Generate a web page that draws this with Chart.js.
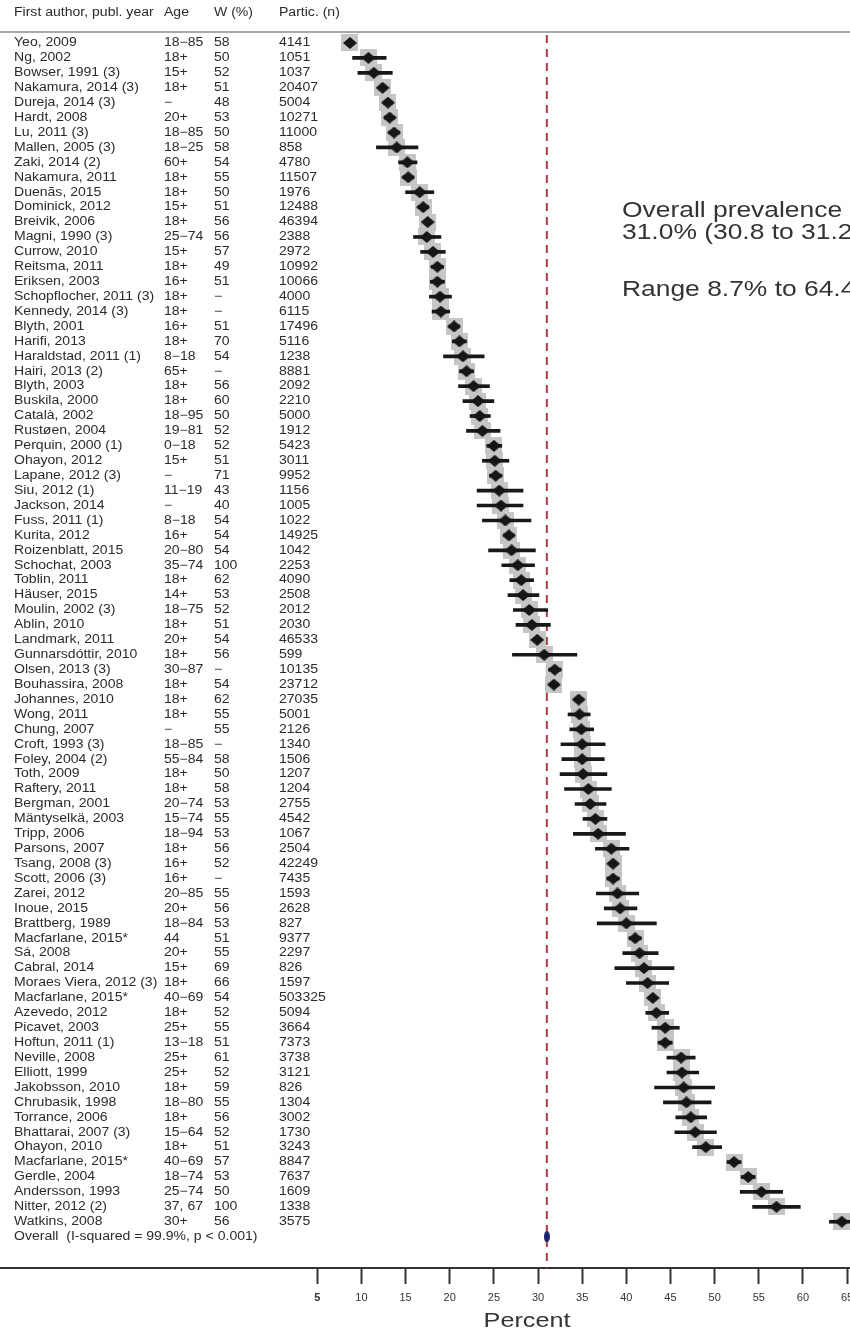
<!DOCTYPE html>
<html><head><meta charset="utf-8">
<script src="https://cdn.jsdelivr.net/npm/chart.js@4.4.1/dist/chart.umd.min.js"></script>
<style>html,body{margin:0;padding:0;background:#fff;}canvas{display:block;}</style>
</head><body>
<canvas id="c" width="850" height="1333"></canvas>
<script>
const authors = ["Yeo, 2009","Ng, 2002","Bowser, 1991 (3)","Nakamura, 2014 (3)","Dureja, 2014 (3)","Hardt, 2008","Lu, 2011 (3)","Mallen, 2005 (3)","Zaki, 2014 (2)","Nakamura, 2011","Duenãs, 2015","Dominick, 2012","Breivik, 2006","Magni, 1990 (3)","Currow, 2010","Reitsma, 2011","Eriksen, 2003","Schopflocher, 2011 (3)","Kennedy, 2014 (3)","Blyth, 2001","Harifi, 2013","Haraldstad, 2011 (1)","Hairi, 2013 (2)","Blyth, 2003","Buskila, 2000","Català, 2002","Rustøen, 2004","Perquin, 2000 (1)","Ohayon, 2012","Lapane, 2012 (3)","Siu, 2012 (1)","Jackson, 2014","Fuss, 2011 (1)","Kurita, 2012","Roizenblatt, 2015","Schochat, 2003","Toblin, 2011","Häuser, 2015","Moulin, 2002 (3)","Ablin, 2010","Landmark, 2011","Gunnarsdóttir, 2010","Olsen, 2013 (3)","Bouhassira, 2008","Johannes, 2010","Wong, 2011","Chung, 2007","Croft, 1993 (3)","Foley, 2004 (2)","Toth, 2009","Raftery, 2011","Bergman, 2001","Mäntyselkä, 2003","Tripp, 2006","Parsons, 2007","Tsang, 2008 (3)","Scott, 2006 (3)","Zarei, 2012","Inoue, 2015","Brattberg, 1989","Macfarlane, 2015*","Sá, 2008","Cabral, 2014","Moraes Viera, 2012 (3)","Macfarlane, 2015*","Azevedo, 2012","Picavet, 2003","Hoftun, 2011 (1)","Neville, 2008","Elliott, 1999","Jakobsson, 2010","Chrubasik, 1998","Torrance, 2006","Bhattarai, 2007 (3)","Ohayon, 2010","Macfarlane, 2015*","Gerdle, 2004","Andersson, 1993","Nitter, 2012 (2)","Watkins, 2008"];
const ages = ["18−85","18+","15+","18+","−","20+","18−85","18−25","60+","18+","18+","15+","18+","25−74","15+","18+","16+","18+","18+","16+","18+","8−18","65+","18+","18+","18−95","19−81","0−18","15+","−","11−19","−","8−18","16+","20−80","35−74","18+","14+","18−75","18+","20+","18+","30−87","18+","18+","18+","−","18−85","55−84","18+","18+","20−74","15−74","18−94","18+","16+","16+","20−85","20+","18−84","44","20+","15+","18+","40−69","18+","25+","13−18","25+","25+","18+","18−80","18+","15−64","18+","40−69","18−74","25−74","37, 67","30+"];
const womenPct = ["58","50","52","51","48","53","50","58","54","55","50","51","56","56","57","49","51","−","−","51","70","54","−","56","60","50","52","52","51","71","43","40","54","54","54","100","62","53","52","51","54","56","−","54","62","55","55","−","58","50","58","53","55","53","56","52","−","55","56","53","51","55","69","66","54","52","55","51","61","52","59","55","56","52","51","57","53","50","100","56"];
const participants = ["4141","1051","1037","20407","5004","10271","11000","858","4780","11507","1976","12488","46394","2388","2972","10992","10066","4000","6115","17496","5116","1238","8881","2092","2210","5000","1912","5423","3011","9952","1156","1005","1022","14925","1042","2253","4090","2508","2012","2030","46533","599","10135","23712","27035","5001","2126","1340","1506","1207","1204","2755","4542","1067","2504","42249","7435","1593","2628","827","9377","2297","826","1597","503325","5094","3664","7373","3738","3121","826","1304","3002","1730","3243","8847","7637","1609","1338","3575"];
const prevalence = [8.7,10.8,11.4,12.4,13.0,13.2,13.7,14.0,15.2,15.3,16.6,17.0,17.5,17.4,18.1,18.6,18.6,18.9,19.0,20.5,21.1,21.5,21.9,22.7,23.2,23.4,23.7,25.0,25.1,25.2,25.6,25.8,26.3,26.7,27.0,27.7,28.1,28.3,29.0,29.3,29.9,30.7,31.9,31.8,34.6,34.7,34.9,35.0,35.0,35.1,35.7,35.9,36.5,36.8,38.3,38.5,38.5,39.0,39.3,40.0,41.0,41.5,42.0,42.4,43.0,43.4,44.4,44.4,46.2,46.3,46.5,46.8,47.3,47.8,49.0,52.2,53.8,55.3,57.0,64.4];
const ciLow = [8.4,9.0,9.6,12.0,12.5,12.6,13.1,11.7,14.2,14.7,15.0,16.4,17.1,15.9,16.7,17.9,17.8,17.7,18.0,19.9,20.3,19.3,21.1,21.0,21.5,22.3,21.9,24.2,23.7,24.5,23.1,23.1,23.7,26.1,24.4,25.9,26.8,26.6,27.2,27.5,29.5,27.1,31.2,31.3,34.1,33.4,33.6,32.6,32.7,32.5,33.0,34.2,35.1,34.0,36.5,38.1,37.8,36.6,37.5,36.7,40.3,39.6,38.7,40.0,42.8,42.2,42.9,43.6,44.6,44.6,43.2,44.2,45.6,45.5,47.5,51.4,53.0,52.9,54.3,63.0];
const ciHigh = [9.0,12.8,13.5,12.8,13.5,13.8,14.3,16.4,16.3,15.9,18.2,17.6,17.8,19.0,19.5,19.3,19.4,20.2,20.0,21.1,21.9,23.9,22.7,24.5,25.0,24.6,25.7,25.9,26.7,25.9,28.3,28.3,29.2,27.3,29.7,29.6,29.5,30.1,31.1,31.4,30.3,34.4,32.6,32.3,35.1,35.9,36.3,37.6,37.5,37.8,38.3,37.7,37.8,39.9,40.3,38.9,39.2,41.4,41.2,43.4,41.7,43.6,45.4,44.8,43.2,44.8,46.0,45.2,47.8,48.2,50.0,49.6,49.1,50.2,50.8,53.0,54.6,57.7,59.7,65.9];
const overallEst = 31.0, overallLow = 30.8, overallHigh = 31.2;
const overallLabel = "Overall  (I-squared = 99.9%, p < 0.001)";
const headers = ["First author, publ. year","Age","W (%)","Partic. (n)"];
const noteLines = ["Overall prevalence","31.0% (30.8 to 31.2)","Range 8.7% to 64.4%"];
const xTicks = [5,10,15,20,25,30,35,40,45,50,55,60,65];
const axisTitle = "Percent";

const FONT = '"Liberation Sans", Arial, Helvetica, sans-serif';
const overallRow = authors.length + 1;
const yMin = 0.263, yMax = 83.1;

function shape(w, h, color, kind) {
  const c = document.createElement('canvas'); c.width = w; c.height = h;
  const g = c.getContext('2d'); g.fillStyle = color; g.beginPath();
  if (kind === 'diamond') { g.moveTo(w/2,0); g.lineTo(w,h/2); g.lineTo(w/2,h); g.lineTo(0,h/2); g.closePath(); }
  else if (kind === 'ellipse') { g.ellipse(w/2,h/2,w/2,h/2,0,0,Math.PI*2); }
  else { g.rect(0,0,w,h); }
  g.fill(); return c;
}
const diamondImg = shape(14, 12, '#161616', 'diamond');
const boxImg = shape(17, 17, '#c6c6c6', 'box');
const overallImg = shape(6, 11, '#1c2470', 'ellipse');

function sText(ctx, t, x, y, size, k, color, align) {
  ctx.save();
  ctx.font = size + 'px ' + FONT;
  ctx.fillStyle = color; ctx.textBaseline = 'middle'; ctx.textAlign = align || 'left';
  ctx.translate(x, y); ctx.scale(k, 1); ctx.fillText(t, 0, 0);
  ctx.restore();
}

const tablePlugin = {
  id: 'table',
  beforeDatasetsDraw(chart) {
    const ctx = chart.ctx;
    ctx.save(); ctx.strokeStyle = '#a9a9a9'; ctx.lineWidth = 2;
    ctx.beginPath(); ctx.moveTo(0, 32); ctx.lineTo(chart.width, 32); ctx.stroke(); ctx.restore();
  },
  afterDraw(chart) {
    const ctx = chart.ctx, ys = chart.scales.y;
    const cols = [14, 164, 214, 279];
    const S = 12, K = 1.17, col = '#2b2b2b';
    headers.forEach((h, j) => sText(ctx, h, cols[j], 13, S, K, col));
    authors.forEach((a, i) => {
      const y = ys.getPixelForValue(i + 1);
      sText(ctx, a, cols[0], y, S, K, col);
      sText(ctx, ages[i], cols[1], y, S, K, col);
      sText(ctx, womenPct[i], cols[2], y, S, K, col);
      sText(ctx, participants[i], cols[3], y, S, K, col);
    });
    sText(ctx, overallLabel, cols[0], ys.getPixelForValue(overallRow), S, K, col);
    sText(ctx, noteLines[0], 622, 211, 22, 1.2, '#333');
    sText(ctx, noteLines[1], 622, 233, 22, 1.2, '#333');
    sText(ctx, noteLines[2], 622, 290, 22, 1.2, '#333');
    sText(ctx, axisTitle, 527, 1321, 21, 1.2, '#333', 'center');
  }
};

new Chart(document.getElementById('c'), {
  type: 'scatter',
  data: {
    datasets: [
      { label: 'overall', data: [{x: overallEst, y: overallRow}], pointStyle: overallImg, pointRadius: 5, order: 0 },
      { label: 'estimate', data: prevalence.map((v, i) => ({x: v, y: i + 1})), pointStyle: diamondImg, pointRadius: 5, order: 1 },
      { label: 'ci', type: 'bar', indexAxis: 'y', data: ciLow.map((lo, i) => ({x: [lo, ciHigh[i]], y: i + 1})),
        backgroundColor: '#181818', borderWidth: 0, barThickness: 3, order: 2 },
      { label: 'weight', data: prevalence.map((v, i) => ({x: v, y: i + 1})), pointStyle: boxImg, pointRadius: 5, order: 3 },
      { label: 'ref', type: 'line', data: [{x: overallEst, y: yMin + 0.2}, {x: overallEst, y: yMax}],
        borderColor: '#bb3744', borderWidth: 2, borderDash: [8, 6], pointRadius: 0, fill: false, order: 4 }
    ]
  },
  options: {
    responsive: false, animation: false, devicePixelRatio: 1,
    layout: { autoPadding: false, padding: { top: 32, left: 0, right: 0, bottom: 0 } },
    plugins: { legend: { display: false }, tooltip: { enabled: false } },
    scales: {
      x: {
        type: 'linear', min: -30.93, max: 65.33, offset: false,
        afterBuildTicks: s => { s.ticks = xTicks.map(v => ({value: v})); },
        afterFit: s => { s.height = 65; s.paddingLeft = 0; s.paddingRight = 0; },
        grid: { display: true, offset: false, drawOnChartArea: false, drawTicks: true, tickLength: 16, tickWidth: 2, tickColor: '#333' },
        border: { display: true, color: '#333', width: 2 },
        ticks: { autoSkip: false, maxRotation: 0, padding: 7, color: '#333',
          font: c => ({ family: FONT, size: 11, weight: (c.tick && c.tick.value === 5) ? 'bold' : 'normal' }) }
      },
      y: { type: 'linear', reverse: true, min: yMin, max: yMax, offset: false, grid: { offset: false }, display: false }
    }
  },
  plugins: [tablePlugin]
});
</script>
</body></html>
